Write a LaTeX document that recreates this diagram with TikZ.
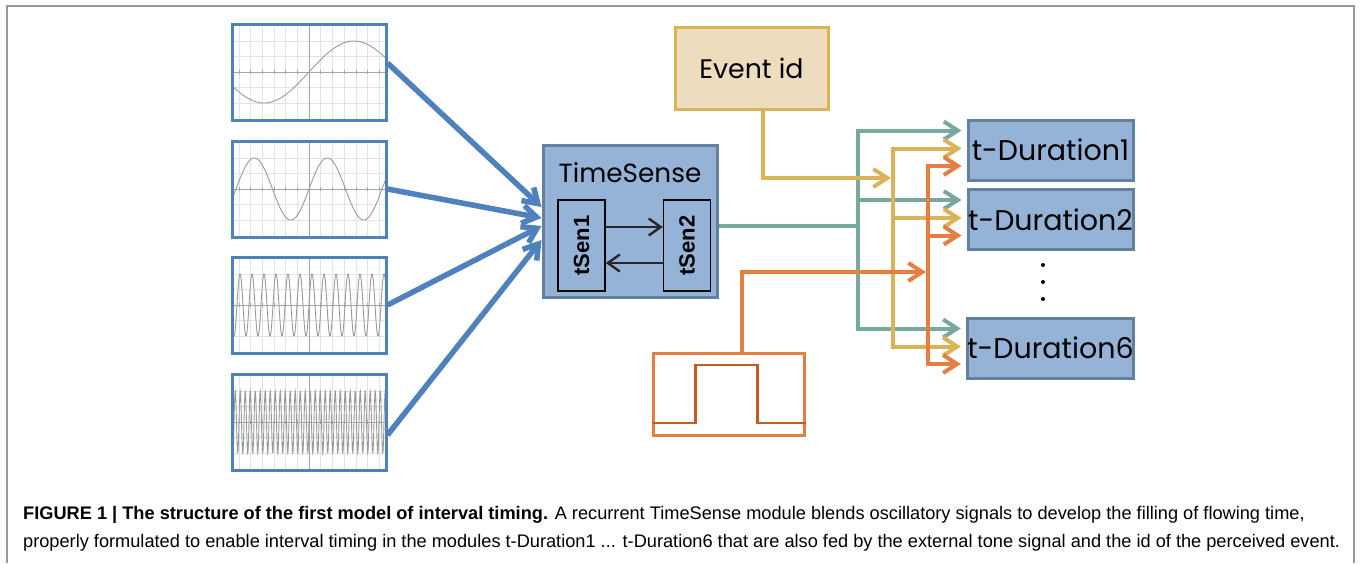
\documentclass[tikz,border=0pt]{standalone}
\usepackage{fontspec}
\setmainfont{Liberation Sans}
\newfontfamily\boxfont{Poppins}
\usetikzlibrary{arrows.meta}

\definecolor{oscblue}{HTML}{4F81BD}
\definecolor{boxfill}{HTML}{95B3D7}
\definecolor{boxline}{HTML}{62809F}
\definecolor{evfill}{HTML}{EDDDBE}
\definecolor{gold}{HTML}{DAB358}
\definecolor{tealc}{HTML}{78A89E}
\definecolor{tone}{HTML}{E47F44}
\definecolor{pulse}{HTML}{C45B22}
\definecolor{gridc}{HTML}{E3E3E3}
\definecolor{wavec}{HTML}{9A9A9A}

\begin{document}
\begin{tikzpicture}[x=1pt,y=-1pt,
  >={Straight Barb[length=14pt,width=18pt]},
  panel/.style={draw=oscblue,line width=3pt,minimum width=154pt,minimum height=96pt,inner sep=0pt},
  module/.style={draw=boxline,fill=boxfill,line width=3pt,inner sep=0pt,font=\boxfont\fontsize{28.5}{32}\selectfont},
  sen/.style={draw=black,fill=boxfill,line width=1.5pt,minimum width=47pt,minimum height=91pt,inner sep=0pt,font=\bfseries\fontsize{22}{24}\selectfont},
  senarrow/.style={draw=black!85,line width=2.4pt,-{Straight Barb[length=12pt,width=17pt]}},
  feed/.style={draw=oscblue,line width=5.5pt,->},
  bus/.style={line width=4pt},
  captext/.style={anchor=base west,inner sep=0pt,font=\fontsize{18.2}{20}\selectfont}]
  \useasboundingbox (0,0) rectangle (1360,563);
  \draw[gray!80,line width=1.5pt] (7,563) -- (7,6) -- (1354,6) -- (1354,563);

  % oscillator panels
  \foreach \n/\yc/\per in {1/72/180,2/189/73,3/305/12,4/422/5}{
    \begin{scope}[shift={(309,\yc)}]
      \clip (-77,-48) rectangle (77,48);
      \foreach \gx in {-70.2,-58.5,...,70.3} \draw[gridc,line width=0.6pt] (\gx,-48) -- (\gx,48);
      \foreach \gy in {-46.8,-31.2,...,46.9} \draw[gridc,line width=0.6pt] (-77,\gy) -- (77,\gy);
      \draw[gray!70,line width=0.6pt] (-77,0) -- (77,0) (0,-48) -- (0,48);
      \foreach \gx in {-70.2,-58.5,...,70.3} \draw[gray!70,line width=0.5pt] (\gx,-2) -- (\gx,2);
      \draw[wavec,line width=0.9pt] plot[domain=-77:77,samples=600] (\x,{-31*sin(\x*(360/\per))});
    \end{scope}
    \node[panel] (osc\n) at (309,\yc) {};
  }

  % TimeSense module
  \node[module,minimum width=174pt,minimum height=152pt] (ts) at (630,221) {};
  \node[font=\boxfont\fontsize{26.3}{30}\selectfont] (tslabel) at (630,173) {TimeSense};
  \node[sen] (sen1) at (581.5,245.5) {\rotatebox{90}{tSen1}};
  \node[sen] (sen2) at (687,245.5) {\rotatebox{90}{tSen2}};
  \draw[senarrow] ([yshift=18.5pt]sen1.east) -- ([yshift=18.5pt]sen2.west);
  \draw[senarrow] ([yshift=-17.5pt]sen2.west) -- ([yshift=-17.5pt]sen1.east);

  % inputs
  \node[draw=gold,fill=evfill,line width=3pt,minimum width=153pt,minimum height=82pt,font=\boxfont\fontsize{26.8}{30}\selectfont] (ev) at (751.5,68) {Event id};
  \node[draw=tone,line width=3pt,minimum width=151pt,minimum height=82pt] (tonebox) at (728.5,394) {};
  \draw[pulse,line width=2.8pt] ([yshift=-29pt]tonebox.west) -| ++(44,-58) -| ++(62,58) -- ([yshift=-29pt]tonebox.east);

  % duration modules
  \node[module,minimum width=165pt,minimum height=60pt] (d1) at (1050.5,150) {t-Duration1};
  \node[module,minimum width=165pt,minimum height=60pt] (d2) at (1050.5,219.5) {t-Duration2};
  \node[module,minimum width=165pt,minimum height=60pt] (d6) at (1050.5,348) {t-Duration6};
  \foreach \dy in {265,282,299} \fill (1043,\dy) circle (2pt);

  % oscillators into TimeSense
  \draw[feed] ([yshift=9pt]osc1.east) -- ([yshift=14pt]ts.west);
  \draw[feed] (osc2.east) -- ([yshift=3pt]ts.west);
  \draw[feed] (osc3.east) -- ([yshift=-5pt]ts.west);
  \draw[feed] ([yshift=-13pt]osc4.east) -- ([yshift=-19pt]ts.west);

  % buses to the duration modules
  \coordinate (tb) at (858,226);
  \coordinate (yb) at (893,178);
  \coordinate (ob) at (928,272);
  \foreach \d in {d1,d2,d6}{
    \coordinate (\d-t) at ([xshift=-5pt,yshift=-12pt]\d.north west);
    \coordinate (\d-y) at ([xshift=-5pt,yshift=-30pt]\d.north west);
    \coordinate (\d-o) at ([xshift=-5pt,yshift=-47.5pt]\d.north west);
  }
  \draw[bus,tealc] ([yshift=-5pt]ts.east) -- (tb);
  \draw[bus,tealc,->] (tb |- d6-t) -- (tb |- d1-t) -- (d1-t);
  \draw[bus,tealc,->] (tb |- d2-t) -- (d2-t);
  \draw[bus,tealc,->] (tb |- d2-t) -- (tb |- d6-t) -- (d6-t);

  \draw[bus,gold,->] ([xshift=11.5pt]ev.south) |- ([xshift=-2pt]yb);
  \draw[bus,gold,->] (yb |- d6-y) -- (yb |- d1-y) -- (d1-y);
  \draw[bus,gold,->] (yb |- d2-y) -- (d2-y);
  \draw[bus,gold,->] (yb |- d2-y) -- (yb |- d6-y) -- (d6-y);

  \draw[bus,tone,->] ([xshift=13.5pt]tonebox.north) |- ([xshift=-2pt]ob);
  \draw[bus,tone,->] (ob |- d6-o) -- (ob |- d1-o) -- (d1-o);
  \draw[bus,tone,->] (ob |- d2-o) -- (d2-o);
  \draw[bus,tone,->] (ob |- d2-o) -- (ob |- d6-o) -- (d6-o);

  % caption
  \node[captext] (cap1) at (23,519) {\textbf{FIGURE 1 | The structure of the first model of interval timing.} A recurrent TimeSense module blends oscillatory signals to develop the filling of flowing time,};
  \node[captext] (cap2) at (23,547) {properly formulated to enable interval timing in the modules t-Duration1 ... t-Duration6 that are also fed by the external tone signal and the id of the perceived event.};
\end{tikzpicture}
\end{document}
